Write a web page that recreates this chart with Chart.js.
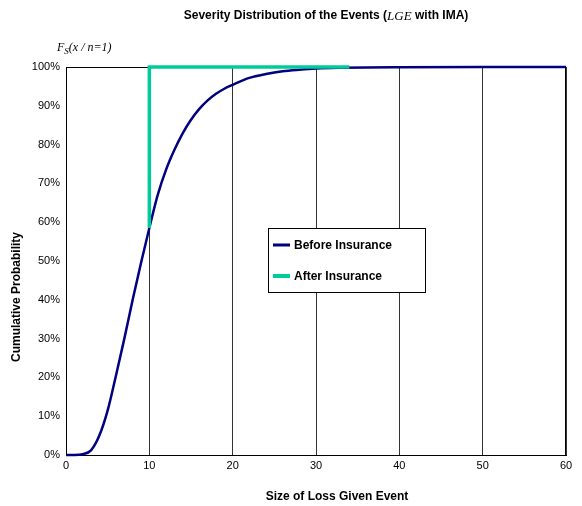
<!DOCTYPE html>
<html>
<head>
<meta charset="utf-8">
<script src="https://cdn.jsdelivr.net/npm/chart.js@4"></script>
<style>
  html, body { margin: 0; padding: 0; background: #fff; }
  #wrap { width: 582px; height: 506px; }
</style>
</head>
<body>
<div id="wrap"><canvas id="sev" width="582" height="506"></canvas></div>
<script>
// loss size (x) and cumulative probability (%)
const lossBefore = [0, 1, 2, 3, 4, 5, 6, 7, 8, 9, 10, 11, 12, 13, 14, 15, 16, 17, 18, 19, 20, 22, 24, 26, 28, 30, 33, 36, 40, 50, 60];
const probBefore = [0, 0, 0.2, 1.2, 5, 11.5, 20.5, 30, 40, 49.5, 58.5, 67, 73.5, 78.6, 82.9, 86.4, 89.2, 91.4, 93.1, 94.4, 95.4, 97.2, 98.2, 98.9, 99.3, 99.6, 99.8, 99.9, 99.95, 100, 100];
const lossAfter = [10, 10, 34];
const probAfter = [58.5, 100, 100];
const xTicks = [0, 10, 20, 30, 40, 50, 60];
const yTicks = [0, 10, 20, 30, 40, 50, 60, 70, 80, 90, 100];

const sans = 'Liberation Sans, Arial, sans-serif';
const serif = 'Liberation Serif, Times New Roman, serif';
const navy = '#000080';
const green = '#00cc99';

function pts(xs, ys) {
    return xs.map((x, i) => ({ x: x, y: ys[i] }));
}

// frame round the plot, under the lines
const frame = {
    id: 'frame',
    beforeDatasetsDraw(chart) {
        const a = chart.chartArea, c = chart.ctx;
        c.save();
        c.strokeStyle = '#000';
        c.lineWidth = 1;
        c.strokeRect(a.left + 0.5, a.top + 0.5, a.right - a.left - 1, a.bottom - a.top);
        c.restore();
    }
};

// titles and the boxed legend
const labels = {
    id: 'labels',
    afterDraw(chart) {
        const c = chart.ctx;
        c.save();
        c.fillStyle = '#000';
        c.textBaseline = 'middle';

        // title with the italic LGE
        const p1 = 'Severity Distribution of the Events (', p2 = 'LGE', p3 = ' with IMA)';
        const f1 = 'bold 12px ' + sans, f2 = 'italic 13px ' + serif;
        c.font = f1; const w1 = c.measureText(p1).width, w3 = c.measureText(p3).width;
        c.font = f2; const w2 = c.measureText(p2).width;
        let x = 326 - (w1 + w2 + w3) / 2;
        c.textAlign = 'left';
        c.font = f1; c.fillText(p1, x, 16); x += w1;
        c.font = f2; c.fillText(p2, x, 16.5); x += w2;
        c.font = f1; c.fillText(p3, x, 16);

        // F_S(x / n=1)
        c.textBaseline = 'alphabetic';
        c.font = 'italic 12px ' + serif;
        c.fillText('F', 57, 51);
        let fx = 57 + c.measureText('F').width;
        c.font = 'italic 9px ' + serif;
        c.fillText('S', fx, 54);
        fx += c.measureText('S').width;
        c.font = 'italic 12px ' + serif;
        c.fillText('(x / n=1)', fx, 51);

        // axis titles
        c.textBaseline = 'middle';
        c.textAlign = 'center';
        c.font = 'bold 12px ' + sans;
        c.fillText('Size of Loss Given Event', 337, 497);
        c.translate(17, 297);
        c.rotate(-Math.PI / 2);
        c.fillText('Cumulative Probability', 0, 0);
        c.restore();

        // legend box
        c.save();
        c.fillStyle = '#fff';
        c.fillRect(268, 228, 157, 64);
        c.strokeStyle = '#000';
        c.lineWidth = 1;
        c.strokeRect(268.5, 228.5, 157, 64);
        const items = chart.data.datasets;
        const rows = [245, 276];
        items.forEach((ds, i) => {
            c.strokeStyle = ds.borderColor;
            c.lineWidth = ds.borderWidth + 0.5;
            c.beginPath();
            c.moveTo(273, rows[i]);
            c.lineTo(290, rows[i]);
            c.stroke();
            c.fillStyle = '#000';
            c.font = 'bold 12px ' + sans;
            c.textAlign = 'left';
            c.textBaseline = 'middle';
            c.fillText(ds.label, 294, rows[i] + 0.5);
        });
        c.restore();
    }
};

new Chart(document.getElementById('sev').getContext('2d'), {
    type: 'line',
    data: {
        datasets: [{
            label: 'Before Insurance',
            data: pts(lossBefore, probBefore),
            borderColor: navy,
            borderWidth: 2.5,
            pointRadius: 0,
            cubicInterpolationMode: 'monotone',
            fill: false,
            clip: false,
            order: 2
        }, {
            label: 'After Insurance',
            data: pts(lossAfter, probAfter),
            borderColor: green,
            borderWidth: 3.5,
            pointRadius: 0,
            tension: 0,
            fill: false,
            clip: false,
            order: 1
        }]
    },
    options: {
        responsive: false,
        animation: false,
        events: [],
        layout: { padding: { top: 67, right: 16, left: 0, bottom: 0 } },
        plugins: {
            legend: { display: false },
            title: { display: false },
            tooltip: { enabled: false }
        },
        scales: {
            x: {
                type: 'linear',
                min: 0,
                max: 60,
                afterBuildTicks: s => { s.ticks = xTicks.map(v => ({ value: v })); },
                afterFit: s => { s.height = 51; },
                grid: { color: '#333', lineWidth: 1, drawTicks: false },
                border: { color: '#000', width: 1 },
                ticks: { color: '#000', padding: 4, font: { family: sans, size: 11 } }
            },
            y: {
                type: 'linear',
                min: 0,
                max: 100,
                afterBuildTicks: s => { s.ticks = yTicks.map(v => ({ value: v })); },
                afterFit: s => { s.width = 66; },
                grid: { display: false, drawTicks: false },
                border: { color: '#000', width: 1 },
                ticks: { color: '#000', padding: 6, font: { family: sans, size: 11 }, callback: v => v + '%' }
            }
        }
    },
    plugins: [frame, labels]
});
</script>
</body>
</html>
